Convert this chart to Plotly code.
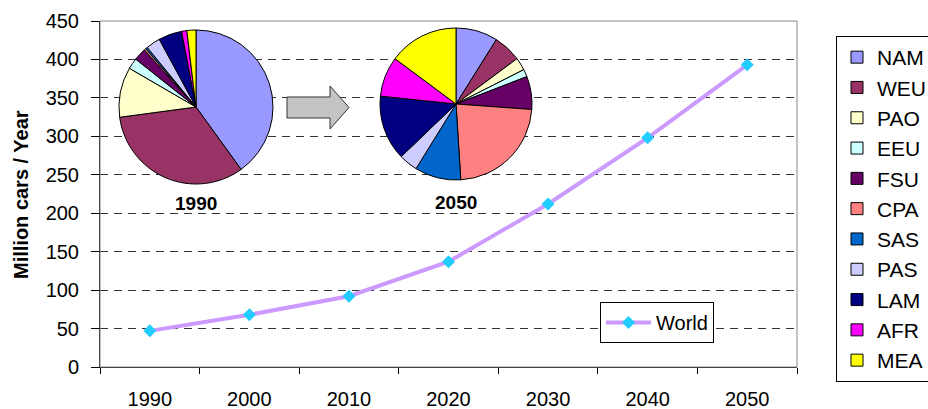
import plotly.graph_objects as go

# World car sales (million cars per year)
years = ["1990", "2000", "2010", "2020", "2030", "2040", "2050"]
world_sales = [47, 68, 92, 137, 212, 298, 393]

# Regional shares of sales (%) in the first and last year
regions = ["NAM", "WEU", "PAO", "EEU", "FSU", "CPA", "SAS", "PAS", "LAM", "AFR", "MEA"]
share_1990 = [40.0, 32.8, 10.5, 2.3, 2.6, 0.4, 0.4, 3.0, 4.9, 1.1, 1.9]
share_2050 = [8.9, 5.9, 2.7, 1.6, 7.0, 22.8, 9.8, 4.0, 13.8, 8.5, 14.8]
region_colors = ["#9999FF", "#993366", "#FFFFCC", "#CCFFFF", "#660066", "#FF8080",
                 "#0066CC", "#CCCCFF", "#000080", "#FF00FF", "#FFFF00"]

W, H = 928, 409
L, R, T, B = 100, 131, 21, 42
PW, PH = W - L - R, H - T - B
FONT = "Liberation Sans, Arial, sans-serif"


def fx(x):
    """pixel x -> paper x"""
    return (x - L) / PW


def fy(y):
    """pixel y -> paper y"""
    return (H - B - y) / PH


fig = go.Figure()

fig.add_trace(go.Scatter(
    x=years, y=world_sales, name="World", mode="lines+markers",
    line=dict(color="#CC99FF", width=4),
    marker=dict(symbol="diamond", size=10, color="#22CCFF",
                line=dict(color="#22CCFF", width=0)),
    showlegend=True, legend="legend",
))

for shares, x0, x1, y0, y1, show in [
    (share_1990, 119, 273, 184, 30, True),
    (share_2050, 380, 532, 180, 28, False),
]:
    fig.add_trace(go.Pie(
        labels=regions, values=shares, sort=False, direction="clockwise",
        rotation=0, textinfo="none", hoverinfo="label+percent",
        marker=dict(colors=region_colors, line=dict(color="black", width=1)),
        domain=dict(x=[fx(x0), fx(x1)], y=[fy(y0), fy(y1)]),
        showlegend=show, legend="legend2",
    ))

# block arrow between the two pies
ax = [(287, 97), (330, 97), (330, 86), (349, 107.5), (330, 129), (330, 118), (287, 118)]
path = "M " + " L ".join(f"{fx(x):.5f},{fy(y):.5f}" for x, y in ax) + " Z"

shapes = [
    dict(type="path", xref="paper", yref="paper", path=path,
         fillcolor="#C4C4C4", line=dict(color="#333333", width=1), layer="above"),
    dict(type="rect", xref="paper", yref="paper", x0=0, x1=1, y0=0, y1=1,
         line=dict(color="#888888", width=1), layer="above"),
]

annotations = [
    dict(text="<b>1990</b>", x=fx(196), y=fy(203), xref="paper", yref="paper",
         xanchor="center", yanchor="middle", showarrow=False,
         font=dict(size=19, color="black", family=FONT)),
    dict(text="<b>2050</b>", x=fx(456), y=fy(202), xref="paper", yref="paper",
         xanchor="center", yanchor="middle", showarrow=False,
         font=dict(size=19, color="black", family=FONT)),
    dict(text="<b>Million cars / Year</b>", x=fx(21), y=fy(195), xref="paper", yref="paper",
         xanchor="center", yanchor="middle", textangle=-90, showarrow=False,
         font=dict(size=20, color="black", family=FONT)),
]

fig.update_layout(
    width=W, height=H, autosize=False, showlegend=True,
    margin=dict(l=L, r=R, t=T, b=B, autoexpand=False),
    paper_bgcolor="white", plot_bgcolor="white",
    font=dict(family=FONT, size=20, color="black"),
    shapes=shapes, annotations=annotations,
    legend=dict(x=fx(600), y=fy(302), xanchor="left", yanchor="top",
                itemwidth=45,
                bgcolor="white", bordercolor="black", borderwidth=1,
                font=dict(size=20, family=FONT)),
    legend2=dict(x=fx(836), y=fy(36), xanchor="left", yanchor="top",
                 bgcolor="white", bordercolor="black", borderwidth=1,
                 font=dict(size=21, family=FONT)),
    xaxis=dict(type="category", range=[-0.5, 6.5], tickson="boundaries",
               showgrid=False, showline=True, linecolor="black", linewidth=1,
               ticks="outside", ticklen=6, tickcolor="black",
               ticklabelstandoff=14, tickfont=dict(size=20), fixedrange=True),
    yaxis=dict(range=[0, 450], dtick=50, tick0=0, showgrid=True,
               gridcolor="#333333", griddash="8px,6px", gridwidth=1,
               zeroline=False, showline=True, linecolor="black", linewidth=1,
               ticks="outside", ticklen=8, tickcolor="black",
               ticklabelstandoff=8, tickfont=dict(size=20), fixedrange=True),
)

fig.write_html("out.html")
